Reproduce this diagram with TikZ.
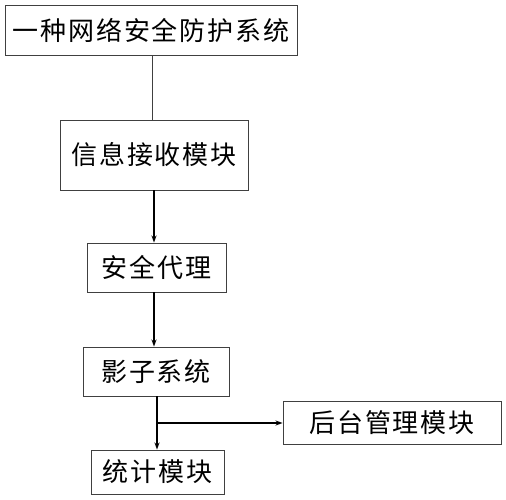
\documentclass[tikz,border=0pt]{standalone}
\usepackage{fontspec}
\newfontfamily\cjk[LetterSpace=7]{Noto Sans CJK SC}
\usetikzlibrary{arrows.meta}
\begin{document}
\begin{tikzpicture}[x=1pt,y=-1pt,
  box/.style={draw=black!75,line width=0.9pt,inner sep=0pt,font=\cjk\fontsize{26}{30}\selectfont},
  conn/.style={draw=black!75,line width=0.9pt},
  arr/.style={draw=black,line width=1.3pt,-{Stealth[length=7pt,width=5pt]}}]
\useasboundingbox (0,0) rectangle (506,500);
\node[box,minimum width=292pt,minimum height=50pt] (b1) at (151,30) {一种网络安全防护系统};
\node[box,minimum width=188pt,minimum height=70pt] (b2) at (154,155) {信息接收模块};
\node[box,minimum width=139pt,minimum height=49pt] (b3) at (156.5,267.5) {安全代理};
\node[box,minimum width=146pt,minimum height=49pt] (b4) at (156,371.5) {影子系统};
\node[box,minimum width=133pt,minimum height=44pt] (b5) at (157.5,472) {统计模块};
\node[box,minimum width=218pt,minimum height=43pt] (b6) at (392,423) {后台管理模块};
\draw[conn] ([xshift=1pt]b1.south) -- ([xshift=-2pt]b2.north);
\draw[arr] (b2.south) -- ([xshift=-2.5pt]b3.north);
\draw[arr] ([xshift=-2.5pt]b3.south) -- ([xshift=-2pt]b4.north);
\draw[arr] ([xshift=1pt]b4.south) -- ([xshift=-0.5pt]b5.north);
\coordinate (j) at (157,423);
\draw[arr] (j) -- (b6.west);
\end{tikzpicture}
\end{document}
